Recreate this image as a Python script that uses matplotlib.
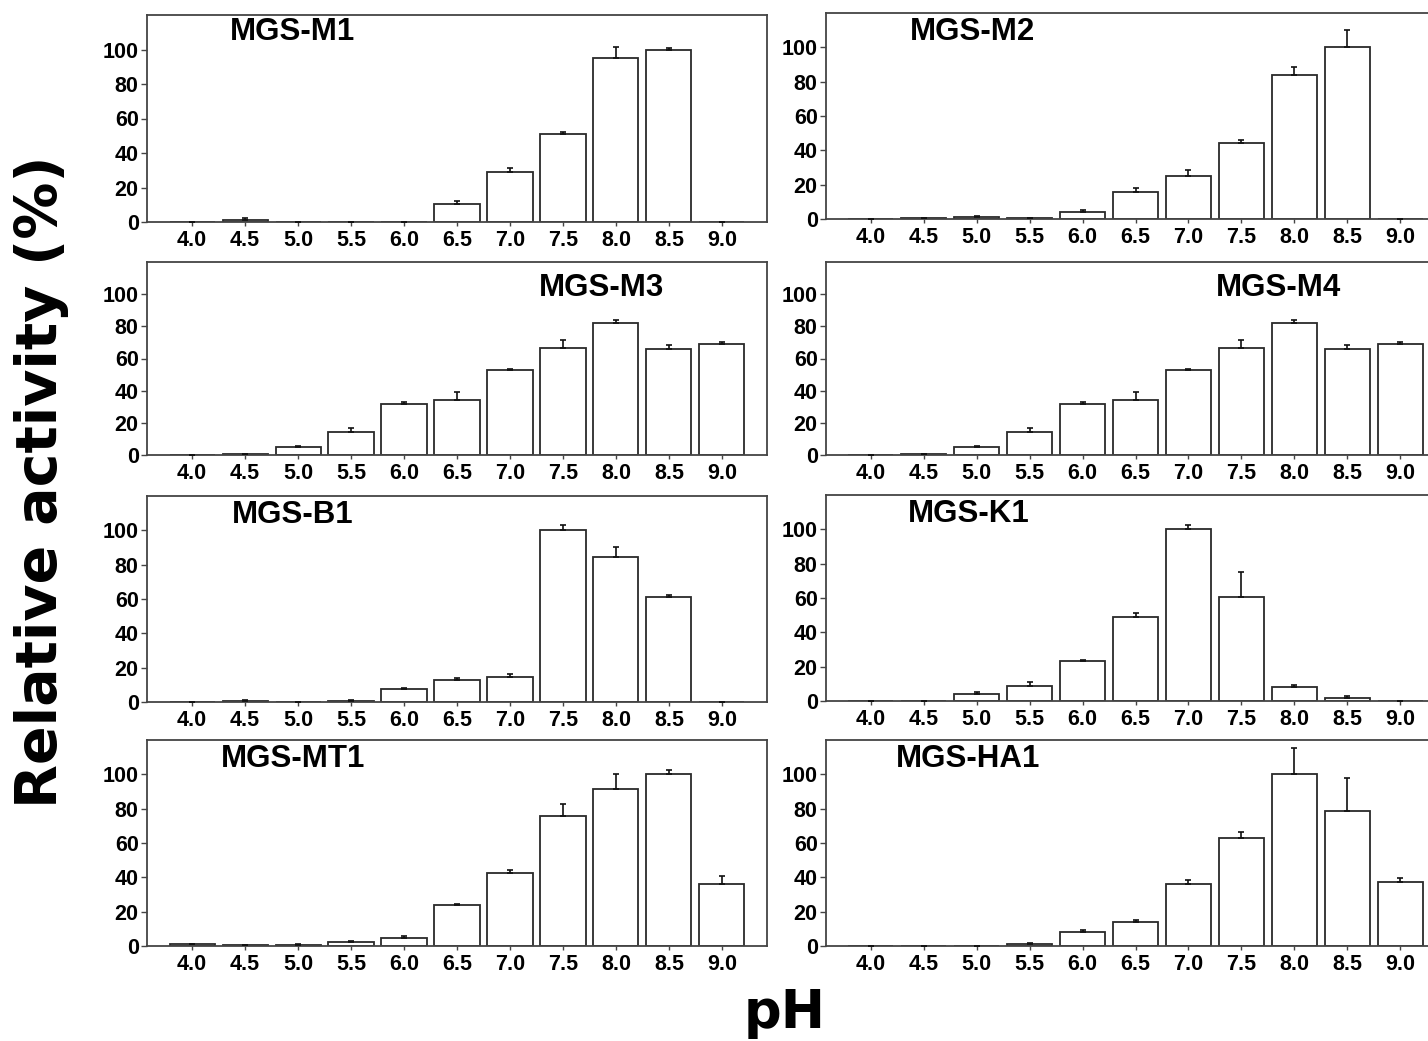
import numpy as np
import matplotlib
matplotlib.use("Agg")
import matplotlib.pyplot as plt

# pH values on the x axis
ph_labels = ["4.0", "4.5", "5.0", "5.5", "6.0", "6.5", "7.0", "7.5", "8.0", "8.5", "9.0"]

# relative activity (%) and error (+) per enzyme
m1_vals = [0, 1.0, 0, 0, 0, 10.5, 28.9, 51.2, 95.3, 100, 0]
m1_err = [0, 1.1, 0, 0, 0, 1.9, 2.5, 0.9, 6.1, 0.8, 0]

m2_vals = [0, 0.3, 1.4, 0.5, 4.1, 15.8, 25.1, 44.2, 84.0, 100, 0]
m2_err = [0, 0.3, 0.5, 0.3, 1.0, 2.3, 3.5, 2.1, 4.7, 10.3, 0]

m3_vals = [0, 0.5, 4.8, 14.0, 31.5, 34.2, 52.9, 66.5, 82.3, 65.6, 69.2]
m3_err = [0, 0.3, 0.8, 2.5, 1.2, 4.8, 0.6, 5.0, 1.9, 2.5, 1.0]

m4_vals = [0, 0.5, 4.8, 14.0, 31.5, 34.2, 52.9, 66.5, 82.3, 65.6, 69.2]
m4_err = [0, 0.3, 0.8, 2.5, 1.2, 4.8, 0.6, 5.0, 1.9, 2.5, 1.0]

b1_vals = [0, 0.8, 0, 0.6, 7.4, 13.1, 14.3, 100, 84.4, 61.1, 0]
b1_err = [0, 0.4, 0, 0.3, 0.8, 0.6, 2.3, 2.9, 6.0, 1.0, 0]

k1_vals = [0, 0, 4.3, 8.7, 23.1, 48.9, 100, 60.4, 8.0, 1.7, 0]
k1_err = [0, 0, 1.1, 2.4, 1.0, 2.2, 2.7, 14.6, 1.3, 1.0, 0]

mt1_vals = [1.2, 0.3, 0.8, 2.3, 4.7, 24.0, 42.8, 75.8, 91.7, 100, 35.9]
mt1_err = [0.2, 0, 0.4, 0.4, 0.9, 0.4, 1.2, 6.8, 8.5, 2.7, 4.8]

ha1_vals = [0, 0, 0, 1.4, 7.9, 13.8, 36.0, 62.8, 100, 78.9, 37.2]
ha1_err = [0, 0, 0, 0.3, 1.2, 1.1, 2.4, 3.7, 15.3, 19.0, 2.3]

names = ["MGS-M1", "MGS-M2", "MGS-M3", "MGS-M4", "MGS-B1", "MGS-K1", "MGS-MT1", "MGS-HA1"]
all_vals = [m1_vals, m2_vals, m3_vals, m4_vals, b1_vals, k1_vals, mt1_vals, ha1_vals]
all_err = [m1_err, m2_err, m3_err, m4_err, b1_err, k1_err, mt1_err, ha1_err]

W, H = 1428, 1041
fig = plt.figure(figsize=(W / 100, H / 100), dpi=100)

# panel boxes in pixels: (left, top, right, bottom)
boxes = [
    (147, 15, 767, 222), (826, 13, 1445, 219),
    (147, 262, 767, 455), (826, 262, 1445, 455),
    (147, 496, 767, 702), (826, 495, 1445, 701),
    (147, 740, 767, 946), (826, 740, 1445, 946),
]
# where the name sits (bar index, value)
title_pos = [(1.9, 110), (1.92, 109), (7.72, 104), (7.7, 104),
             (1.9, 109), (1.85, 109), (1.9, 109), (1.83, 109)]

x = np.arange(len(ph_labels))
frame_col = "#444444"

for i in range(8):
    l, t, r, b = boxes[i]
    ax = fig.add_axes([l / W, 1 - b / H, (r - l) / W, (b - t) / H])
    vals = np.array(all_vals[i])
    err = np.array(all_err[i])
    ax.bar(x, vals, width=0.85, color="white", edgecolor="#2a2a2a", linewidth=1.3, zorder=2)
    ax.errorbar(x, vals, yerr=[np.zeros_like(err), err], fmt="none", ecolor="#111111",
                elinewidth=1.2, capsize=2.5, capthick=1.2, zorder=3)
    ax.set_xlim(-0.85, 10.85)
    ax.set_ylim(0, 120)
    ax.set_xticks(x)
    ax.set_xticklabels(ph_labels)
    ax.set_yticks([0, 20, 40, 60, 80, 100])
    for lab in ax.get_xticklabels() + ax.get_yticklabels():
        lab.set_fontfamily("Liberation Sans")
        lab.set_fontweight("bold")
        lab.set_fontsize(15.5)
    ax.tick_params(axis="x", length=3, width=1, color=frame_col, pad=3)
    ax.tick_params(axis="y", length=4, width=1, color=frame_col, pad=2)
    for s in ax.spines.values():
        s.set_color(frame_col)
        s.set_linewidth(1.3)
    tx, ty = title_pos[i]
    ax.text(tx, ty, names[i], ha="center", va="center", fontsize=22.5,
            fontweight="bold", family="Liberation Sans")

fig.text(42 / W, 1 - 482 / H, "Relative activity (%)", rotation=90, ha="center", va="center",
         fontsize=41, fontweight="bold", family="DejaVu Sans")
fig.text(785 / W, 1 - 1013 / H, "pH", ha="center", va="center",
         fontsize=38, fontweight="bold", family="DejaVu Sans")

plt.savefig("out.png", dpi=100)
